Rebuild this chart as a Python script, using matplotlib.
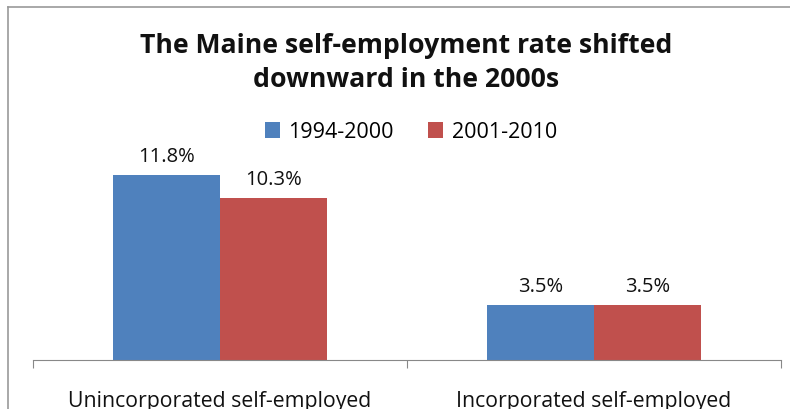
import matplotlib
matplotlib.use("Agg")
import matplotlib.pyplot as plt
from matplotlib.lines import Line2D
from matplotlib.patches import Patch
import numpy as np

categories = ["Unincorporated self-employed", "Incorporated self-employed"]
series_names = ["1994-2000", "2001-2010"]
values_1994_2000 = [11.8, 3.5]
values_2001_2010 = [10.3, 3.5]
colors = ["#4F81BD", "#C0504D"]

FONT = ["Open Sans", "DejaVu Sans"]

fig = plt.figure(figsize=(7.9, 4.1), dpi=100)
W, H = 790, 410
ax = fig.add_axes([33 / W, (H - 361) / H, (781 - 33) / W, (361 - 141) / H])

x = np.arange(len(categories))
bw = 0.286
b1 = ax.bar(x - bw / 2, values_1994_2000, bw, color=colors[0], label=series_names[0])
b2 = ax.bar(x + bw / 2, values_2001_2010, bw, color=colors[1], label=series_names[1])

for bars, vals in ((b1, values_1994_2000), (b2, values_2001_2010)):
    for r, v in zip(bars, vals):
        ax.annotate(f"{v:.1f}%", (r.get_x() + r.get_width() / 2, v),
                    xytext=(0, 19), textcoords="offset pixels",
                    ha="center", va="center", fontsize=14.5, family=FONT, color="#111111")

ax.set_xlim(-0.5, 1.5)
ax.set_ylim(0, 14)
ax.set_yticks([])
for s in ("top", "right", "left"):
    ax.spines[s].set_visible(False)
ax.spines["bottom"].set_color("#888888")
ax.set_xticks([-0.5, 0.5, 1.5], minor=False)
ax.set_xticklabels([])
ax.tick_params(axis="x", length=6, color="#888888", direction="out")
for xi, c in zip(x, categories):
    ax.text(xi, -0.185, c, transform=ax.get_xaxis_transform(), ha="center", va="center",
            fontsize=15.3, family=FONT, color="#111111")

fig.text(406 / W, 1 - 63 / H, "The Maine self-employment rate shifted\ndownward in the 2000s",
         ha="center", va="center", fontsize=19.2, fontweight="bold", family=FONT,
         linespacing=1.38, color="#111111")

handles = [Patch(facecolor=colors[0]), Patch(facecolor=colors[1])]
fig.legend(handles, series_names, loc="center", bbox_to_anchor=(411 / W, 1 - 133 / H),
           ncol=2, frameon=False, prop={"family": FONT, "size": 15.5},
           handlelength=0.7, handleheight=0.7, handletextpad=0.4, columnspacing=1.6)

# chart area border
fig.add_artist(Line2D([8 / W, 8 / W], [0, 1 - 8 / H], transform=fig.transFigure, color="#999999", lw=1.2))
fig.add_artist(Line2D([8 / W, 1], [1 - 8 / H, 1 - 8 / H], transform=fig.transFigure, color="#999999", lw=1.2))

fig.savefig("out.png", dpi=100)
